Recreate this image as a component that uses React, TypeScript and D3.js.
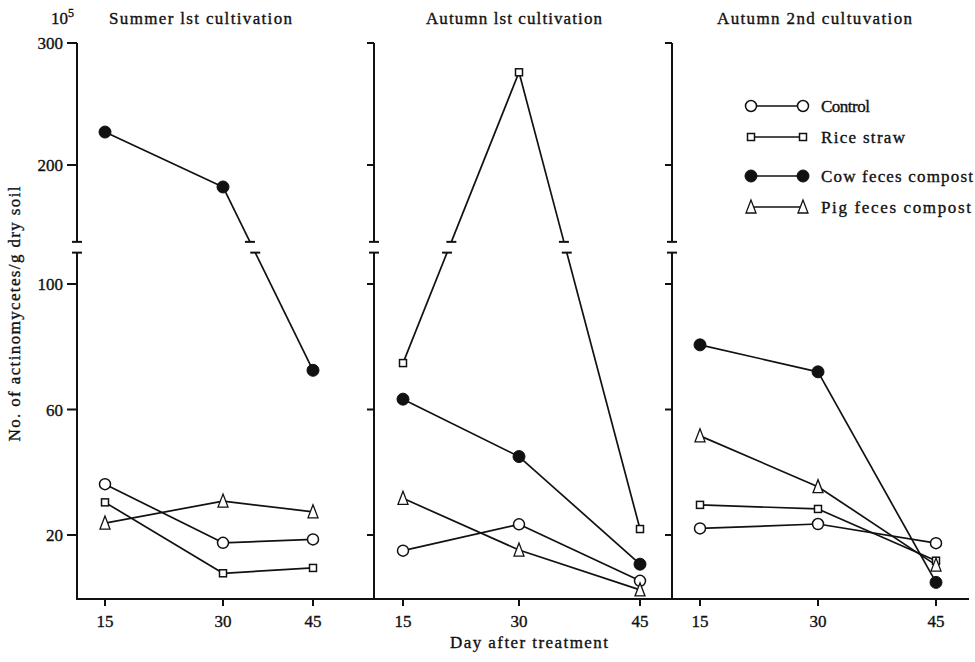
import React from "react";
import * as d3 from "d3";

// ---- data ----
const days = [15, 30, 45];
const panelTitles = ["Summer lst cultivation", "Autumn lst cultivation", "Autumn 2nd cultuvation"];
const seriesNames = ["Control", "Rice straw", "Cow feces compost", "Pig feces compost"];
// values per panel (Summer 1st, Autumn 1st, Autumn 2nd) at days 15, 30, 45  (x10^5 / g dry soil)
const control = [[36.2, 17.5, 18.6], [15.0, 23.4, 5.4], [22.1, 23.5, 17.4]];
const riceStraw = [[30.4, 7.8, 9.5], [74.8, 276, 21.9], [29.6, 28.3, 11.8]];
const cowFeces = [[227, 182, 72.5], [63.3, 45.0, 10.7], [80.6, 72.0, 4.9]];
const pigFeces = [[23.8, 30.8, 27.4], [31.7, 15.2, 2.5], [51.6, 35.4, 10.4]];
const lowerTicks = [20, 60, 100];
const upperTicks = [200, 300];
const breakLowValue = 110;
const breakHighValue = 137;

// ---- layout ----
const W = 975, H = 662;
const axisX = [77, 374, 672];
const dayPx = [[105, 223, 313], [403, 519, 640], [700, 818, 936]];
const xAxisY = 599;
const xScales = dayPx.map((r) => d3.scaleLinear().domain(days).range(r));
const yLow = d3.scaleLinear().domain([0, 100]).range([597.75, 284]);
const yHigh = d3.scaleLinear().domain([200, 300]).range([165, 43]);
const yVal = (v: number) => (v >= breakHighValue ? yHigh(v) : yLow(v));
const lowTop = yLow(breakLowValue);
const highBottom = yHigh(breakHighValue);
const INK = "#111";
const FONT = '"Liberation Serif", "Times New Roman", Times, "DejaVu Serif", serif';
const textStyle = { fontFamily: FONT, fontSize: 17, fill: INK, stroke: INK, strokeWidth: 0.35 } as React.CSSProperties;

const markerTypes = ["openCircle", "square", "filledCircle", "triangle"];
const allSeries = [control, riceStraw, cowFeces, pigFeces];

function Marker({ type, x, y }: { type: string; x: number; y: number }) {
  if (type === "openCircle")
    return <circle cx={x} cy={y} r={5.5} fill="#fff" stroke={INK} strokeWidth={1.5} />;
  if (type === "filledCircle") return <circle cx={x} cy={y} r={6} fill={INK} stroke={INK} strokeWidth={1} />;
  if (type === "square")
    return <rect x={x - 3.5} y={y - 3.5} width={7} height={7} fill="#fff" stroke={INK} strokeWidth={1.5} />;
  return (
    <path
      d={`M${x},${y - 7}L${x - 5},${y + 6}L${x + 5},${y + 6}Z`}
      fill="#fff"
      stroke={INK}
      strokeWidth={1.3}
    />
  );
}

function Segment({ x0, v0, x1, v1 }: { x0: number; v0: number; x1: number; v1: number }) {
  const y0 = yVal(v0), y1 = yVal(v1);
  const up0 = v0 >= breakHighValue, up1 = v1 >= breakHighValue;
  if (up0 === up1) return <line x1={x0} y1={y0} x2={x1} y2={y1} stroke={INK} strokeWidth={1.7} />;
  const pu = up0 ? { x: x0, y: y0 } : { x: x1, y: y1 };
  const pl = up0 ? { x: x1, y: y1 } : { x: x0, y: y0 };
  const xAt = (yy: number) => pu.x + ((yy - pu.y) / (pl.y - pu.y)) * (pl.x - pu.x);
  const xa = xAt(highBottom), xb = xAt(lowTop);
  return (
    <g stroke={INK} strokeWidth={1.7}>
      <line x1={pu.x} y1={pu.y} x2={xa} y2={highBottom} />
      <line x1={xa - 5} y1={highBottom} x2={xa + 5} y2={highBottom} strokeWidth={2} />
      <line x1={xb} y1={lowTop} x2={pl.x} y2={pl.y} />
      <line x1={xb - 5} y1={lowTop} x2={xb + 5} y2={lowTop} strokeWidth={2} />
    </g>
  );
}

export default function App() {
  const titleX = [109, 426, 717];
  const titleW = [183, 176, 195];
  const legendY = [106, 137, 176, 207];
  const legendW = [49, 84, 152, 150];
  return (
    <svg width={W} height={H} style={{ position: "absolute", left: 0, top: 0, background: "#fff" }}>
      <rect x={0} y={0} width={W} height={H} fill="#fff" />
      {/* y axis label */}
      <text
        transform="translate(20,314) rotate(-90)"
        textAnchor="middle"
        style={textStyle}
        textLength={255}
        lengthAdjust="spacing"
      >
        No. of actinomycetes/g dry soil
      </text>
      {/* 10^5 */}
      <text x={51} y={24} style={textStyle}>
        10
        <tspan dy={-7} style={{ fontSize: 12 }}>5</tspan>
      </text>
      {/* panel titles */}
      {panelTitles.map((t, i) => (
        <text key={t} x={titleX[i]} y={24} style={textStyle} textLength={titleW[i]} lengthAdjust="spacing">
          {t}
        </text>
      ))}
      {/* vertical axes */}
      {axisX.map((ax, i) => {
        const tl = i === 0 ? 10 : 7;
        return (
          <g key={i} stroke={INK} strokeWidth={2}>
            <line x1={ax} y1={yHigh(300)} x2={ax} y2={highBottom} />
            <line x1={ax - 5} y1={highBottom} x2={ax + 5} y2={highBottom} />
            <line x1={ax} y1={lowTop} x2={ax} y2={xAxisY} />
            <line x1={ax - 5} y1={lowTop} x2={ax + 5} y2={lowTop} />
            {upperTicks.map((t) => (
              <line key={"u" + t} x1={ax - tl} y1={yHigh(t)} x2={ax} y2={yHigh(t)} />
            ))}
            {lowerTicks.map((t) => (
              <line key={"l" + t} x1={ax - tl} y1={yLow(t)} x2={ax} y2={yLow(t)} />
            ))}
          </g>
        );
      })}
      {/* y tick labels */}
      {upperTicks.map((t) => (
        <text key={"ut" + t} x={63} y={yHigh(t) + 6} textAnchor="end" style={textStyle}>
          {t}
        </text>
      ))}
      {lowerTicks.map((t) => (
        <text key={"lt" + t} x={63} y={yLow(t) + 6} textAnchor="end" style={textStyle}>
          {t}
        </text>
      ))}
      {/* x axis */}
      <line x1={axisX[0] - 1} y1={xAxisY} x2={969} y2={xAxisY} stroke={INK} strokeWidth={2} />
      {xScales.map((xs, i) => (
        <g key={"xt" + i}>
          {days.map((d) => (
            <g key={d}>
              <line x1={xs(d)} y1={xAxisY} x2={xs(d)} y2={xAxisY + 7} stroke={INK} strokeWidth={2} />
              <text x={xs(d)} y={627} textAnchor="middle" style={textStyle}>
                {d}
              </text>
            </g>
          ))}
        </g>
      ))}
      <text x={450} y={648} style={textStyle} textLength={158} lengthAdjust="spacing">
        Day after treatment
      </text>
      {/* data lines */}
      {xScales.map((xs, p) => (
        <g key={"p" + p}>
          {allSeries.map((s, si) => (
            <g key={si}>
              {days.slice(0, -1).map((d, k) => (
                <Segment key={k} x0={xs(d)} v0={s[p][k]} x1={xs(days[k + 1])} v1={s[p][k + 1]} />
              ))}
            </g>
          ))}
          {allSeries.map((s, si) => (
            <g key={"m" + si}>
              {days.map((d, k) => (
                <Marker key={k} type={markerTypes[si]} x={xs(d)} y={yVal(s[p][k])} />
              ))}
            </g>
          ))}
        </g>
      ))}
      {/* legend */}
      {seriesNames.map((n, i) => (
        <g key={n}>
          <line x1={751} y1={legendY[i]} x2={803} y2={legendY[i]} stroke={INK} strokeWidth={1.6} />
          <Marker type={markerTypes[i]} x={751} y={legendY[i]} />
          <Marker type={markerTypes[i]} x={803} y={legendY[i]} />
          <text x={821} y={legendY[i] + 6} style={textStyle} textLength={legendW[i]} lengthAdjust="spacing">
            {n}
          </text>
        </g>
      ))}
    </svg>
  );
}
